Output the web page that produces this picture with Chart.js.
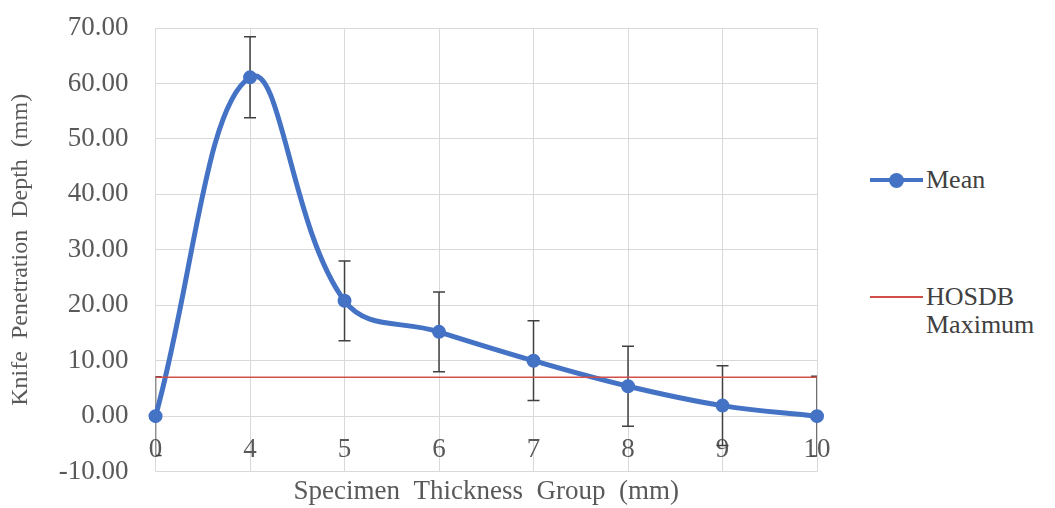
<!DOCTYPE html>
<html>
<head>
<meta charset="utf-8">
<script src="https://cdn.jsdelivr.net/npm/chart.js@4"></script>
<style>
  html, body { margin: 0; padding: 0; background: #fff; }
  #wrap { position: relative; width: 1055px; height: 508px; }
  #box { position: absolute; left: 0; top: 0; width: 850px; height: 508px; }
  #legend { position: absolute; left: 860px; top: 0; width: 195px; height: 508px;
    font-family: "Liberation Serif", "Times New Roman", serif; font-size: 26px; color: #404040; }
  #legend .item { position: absolute; left: 10px; display: flex; align-items: flex-start; line-height: 28px; }
  #legend .item:nth-child(1) { top: 166px; }
  #legend .item:nth-child(2) { top: 283px; }
  #legend .sw { position: relative; width: 53px; height: 28px; margin-right: 3px; flex: none; }
  #legend .sw .ln { position: absolute; left: 0; right: 0; top: 50%; }
  #legend .sw .dot { position: absolute; left: 50%; top: 50%; width: 15px; height: 15px; margin: -7.5px 0 0 -7.5px; border-radius: 50%; }
</style>
</head>
<body>
<div id="wrap">
  <div id="box"><canvas id="knifeChart"></canvas></div>
  <div id="legend"></div>
</div>
<script>
const groups = ['0', '4', '5', '6', '7', '8', '9', '10'];
const meanDepth = [0, 61.1, 20.8, 15.2, 10.0, 5.4, 1.9, 0];
const errDepth = [7.1, 7.3, 7.2, 7.2, 7.2, 7.2, 7.2, 7.2];
const hosdbMax = [7.0, 7.0, 7.0, 7.0, 7.0, 7.0, 7.0, 7.0];

const serif = '"Liberation Serif", "Times New Roman", serif';
const grey = '#595959';

// error bars, clipped to the plot area like the original
const errorBars = {
  id: 'errorBars',
  beforeDatasetsDraw(chart) {
    const { ctx, chartArea: a, scales: { x, y } } = chart;
    ctx.save();
    ctx.beginPath();
    ctx.rect(a.left, a.top, a.right - a.left, a.bottom - a.top);
    ctx.clip();
    ctx.strokeStyle = '#404040';
    ctx.lineWidth = 1.5;
    meanDepth.forEach((v, i) => {
      const px = x.getPixelForValue(i);
      const top = y.getPixelForValue(v + errDepth[i]);
      const bot = y.getPixelForValue(v - errDepth[i]);
      ctx.beginPath();
      ctx.moveTo(px, top); ctx.lineTo(px, bot);
      ctx.moveTo(px - 6, top); ctx.lineTo(px + 6, top);
      ctx.moveTo(px - 6, bot); ctx.lineTo(px + 6, bot);
      ctx.stroke();
    });
    ctx.restore();
  }
};

// legend built as html next to the canvas
const htmlLegend = {
  id: 'htmlLegend',
  afterUpdate(chart) {
    const box = document.getElementById('legend');
    box.innerHTML = '';
    chart.data.datasets.forEach(ds => {
      const item = document.createElement('div');
      item.className = 'item';
      const sw = document.createElement('span');
      sw.className = 'sw';
      const ln = document.createElement('span');
      ln.className = 'ln';
      const lw = Math.min(ds.borderWidth, 4);
      ln.style.height = lw + 'px';
      ln.style.marginTop = (-lw / 2) + 'px';
      ln.style.background = ds.borderColor;
      sw.appendChild(ln);
      if (ds.pointRadius > 0) {
        const dot = document.createElement('span');
        dot.className = 'dot';
        dot.style.background = ds.borderColor;
        sw.appendChild(dot);
      }
      const txt = document.createElement('span');
      txt.innerHTML = ds.legendText.join('<br>');
      item.appendChild(sw);
      item.appendChild(txt);
      box.appendChild(item);
    });
  }
};

new Chart(document.getElementById('knifeChart'), {
  type: 'line',
  data: {
    labels: groups,
    datasets: [{
      label: 'Mean',
      legendText: ['Mean'],
      data: meanDepth,
      borderColor: '#4472C4',
      backgroundColor: '#4472C4',
      borderWidth: 5,
      pointRadius: 6,
      pointBorderWidth: 2,
      pointBackgroundColor: '#4472C4',
      tension: 0.4,
      order: 1,
    }, {
      label: 'HOSDB Maximum',
      legendText: ['HOSDB', 'Maximum'],
      data: hosdbMax,
      borderColor: '#D24F4C',
      borderWidth: 1.5,
      pointRadius: 0,
      order: 0,
    }],
  },
  options: {
    responsive: true, maintainAspectRatio: false, animation: false,
    layout: { padding: { top: 28, right: 33, left: 3, bottom: 0 } },
    plugins: {
      legend: { display: false },
      tooltip: { enabled: false },
      title: {
        display: true, position: 'bottom', fullSize: false,
        text: 'Specimen  Thickness  Group  (mm)',
        color: grey, font: { family: serif, size: 27, weight: 'normal' },
        padding: { top: 4, bottom: 0 },
      },
    },
    scales: {
      x: {
        position: { y: 0 },
        offset: false,
        // invisible tick marks keep the labels off the axis line
        grid: { color: '#d9d9d9', tickColor: 'transparent', tickLength: 14 },
        border: { color: '#d9d9d9' },
        ticks: { color: grey, font: { family: serif, size: 27 }, padding: 4, maxRotation: 0 },
      },
      y: {
        min: -10, max: 70,
        grid: { color: '#d9d9d9', tickColor: 'transparent', tickLength: 23 },
        border: { display: false },
        ticks: { stepSize: 10, color: grey, font: { family: serif, size: 27 }, padding: 4,
          callback: v => v.toFixed(2) },
        title: { display: true, text: 'Knife  Penetration  Depth  (mm)', color: grey,
          font: { family: serif, size: 24 }, padding: { top: 3, bottom: 20 } },
      },
    },
  },
  plugins: [errorBars, htmlLegend],
});
</script>
</body>
</html>
